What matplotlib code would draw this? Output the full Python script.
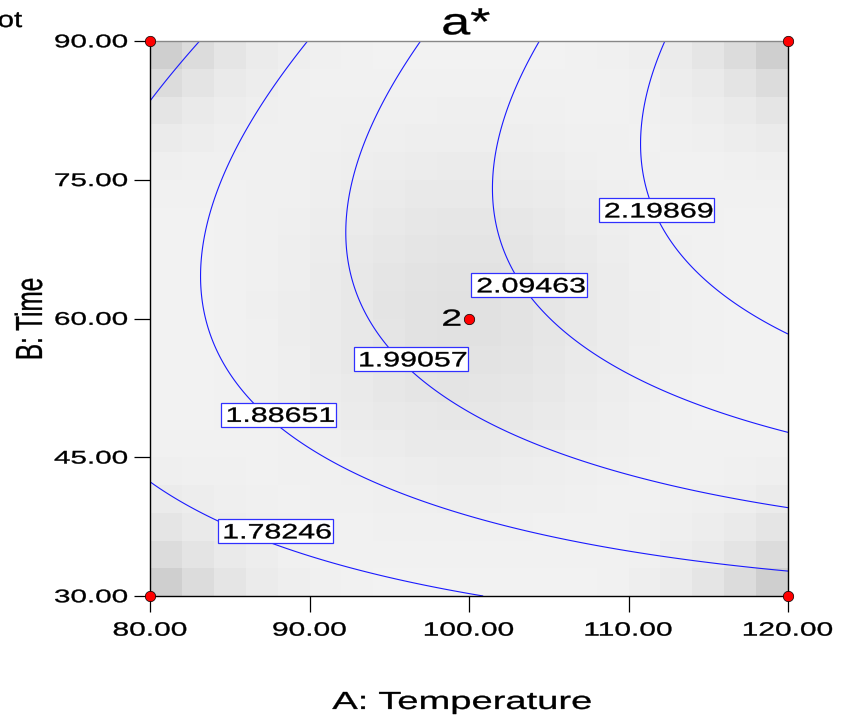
import numpy as np
import matplotlib
matplotlib.use("Agg")
import matplotlib.pyplot as plt
import matplotlib.transforms as mtransforms
from matplotlib.textpath import TextPath
from matplotlib.patches import PathPatch, Rectangle
from matplotlib.font_manager import FontProperties

# fitted quadratic model for a*, coded units A=(T-100)/20, B=(t-60)/30
coef_names = ["1", "A", "B", "AB", "A2", "B2"]
coef_vals = [2.04982, 0.18156, 0.12737, 0.0993, -0.01957, -0.14361]

levels = [1.78246, 1.88651, 1.99057, 2.09463, 2.19869]
level_labels = ["1.78246", "1.88651", "1.99057", "2.09463", "2.19869"]
label_T = [88.0, 88.2, 96.5, 103.9, 111.9]
label_t = [37.0, 49.6, 55.6, 63.6, 71.7]

# design points
design_T = [80, 80, 120, 120, 100]
design_t = [30, 90, 30, 90, 60]
center_reps = "2"

x_ticks = [80, 90, 100, 110, 120]
y_ticks = [30, 45, 60, 75, 90]

FONT = FontProperties(family="Liberation Sans")
W, H = 843, 722
PX = mtransforms.IdentityTransform()


def wide_text(x, y, s, em, stretch, transform, ha="center", va="center",
              rotation=0, box=None, zorder=6):
    # text drawn as a path so it can be widened like the original export
    path = TextPath((0, 0), s, size=1, prop=FONT)
    bb = path.get_extents()
    ox = {"left": bb.x0, "center": (bb.x0 + bb.x1) / 2, "right": bb.x1}[ha]
    oy = {"bottom": bb.y0, "center": (bb.y0 + bb.y1) / 2, "top": bb.y1,
          "baseline": 0}[va]
    shape = (mtransforms.Affine2D().translate(-ox, -oy).scale(em)
             .rotate_deg(rotation).scale(stretch, 1))
    tr = shape + mtransforms.ScaledTranslation(x, y, transform)
    if box is not None:
        pl, pr, pv = box
        sx = em * stretch
        rect = Rectangle((bb.x0 - pl / sx, bb.y0 - pv / em),
                         bb.width + (pl + pr) / sx, bb.height + 2 * pv / em,
                         transform=tr, facecolor="white", edgecolor="#3030ff",
                         lw=0.9, zorder=zorder - 0.5)
        fig.add_artist(rect)
    fig.add_artist(PathPatch(path, transform=tr, facecolor="black",
                             edgecolor="black", lw=0.25, zorder=zorder))


def model(a, b):
    c = dict(zip(coef_names, coef_vals))
    return (c["1"] + c["A"] * a + c["B"] * b + c["AB"] * a * b
            + c["A2"] * a ** 2 + c["B2"] * b ** 2)


fig = plt.figure(figsize=(W / 100, H / 100), dpi=100)
ax = fig.add_axes([150 / W, 126 / H, 638 / W, 555 / H])

# background grey tiles
edges_T = np.linspace(80, 120, 21)
edges_t = np.linspace(30, 90, 21)
cT = (edges_T[:-1] + edges_T[1:]) / 2
ct = (edges_t[:-1] + edges_t[1:]) / 2
ga, gb = np.meshgrid((cT - 100) / 20, (ct - 60) / 30)
shade = 0.95 - 0.21 * (ga * gb) ** 4
shade -= 0.07 * np.exp(-((ga + 0.02) ** 2 / (2 * 0.34 ** 2) + (gb - 0.02) ** 2 / (2 * 0.4 ** 2)))
ax.pcolormesh(edges_T, edges_t, shade, cmap="gray", vmin=0, vmax=1, shading="flat", zorder=0)

T = np.linspace(80, 120, 301)
t = np.linspace(30, 90, 301)
TT, tt = np.meshgrid(T, t)
Z = model((TT - 100) / 20, (tt - 60) / 30)
ax.contour(TT, tt, Z, levels=levels, colors="#1a1aff", linewidths=0.8, zorder=2)

ax.plot(design_T, design_t, "o", color="red", mec="black", mew=0.5, ms=7.5,
        clip_on=False, zorder=8)

ax.set_xlim(80, 120)
ax.set_ylim(30, 90)
ax.set_xticks(x_ticks)
ax.set_yticks(y_ticks)
ax.tick_params(direction="out", length=11.5, width=0.9, color="black",
               labelleft=False, labelbottom=False)
for side in ["left", "bottom", "right"]:
    ax.spines[side].set_color("black")
    ax.spines[side].set_linewidth(1.0)
ax.spines["top"].set_color("#888888")
ax.spines["top"].set_linewidth(1.0)

# tick labels
ytr = mtransforms.blended_transform_factory(PX, ax.transData)
xtr = mtransforms.blended_transform_factory(ax.transData, PX)
for v in y_ticks:
    wide_text(127, v, "%.2f" % v, 18.3, 1.62, ytr, ha="right", va="center")
for v in x_ticks:
    wide_text(v, H - 629, "%.2f" % v, 19.3, 1.55, xtr, ha="center", va="center")

# contour labels
for s, x, y in zip(level_labels, label_T, label_t):
    wide_text(x, y, s, 20.8, 1.46, ax.transData, ha="center", va="center",
              box=(6.5, 2.0, 4.8), zorder=7)

# replicate count at centre point
wide_text(99.45, 60.1, center_reps, 23.3, 1.6, ax.transData, ha="right", va="center", zorder=8)

# titles and axis labels
wide_text(466.5, H - 21.5, "a*", 37.7, 1.38, PX, ha="center", va="center")
wide_text(28.5, ytr.transform((0, 60))[1], "B: Time", 24.3, 1.55, PX,
          ha="center", va="center", rotation=90)
wide_text(461.5, H - 692, "A: Temperature", 24.6, 1.55, PX, ha="center", va="top")
wide_text(22, H - 27, "Design-Expert Plot", 22.7, 1.3, PX, ha="right", va="baseline")

fig.savefig("out.png", dpi=100)
